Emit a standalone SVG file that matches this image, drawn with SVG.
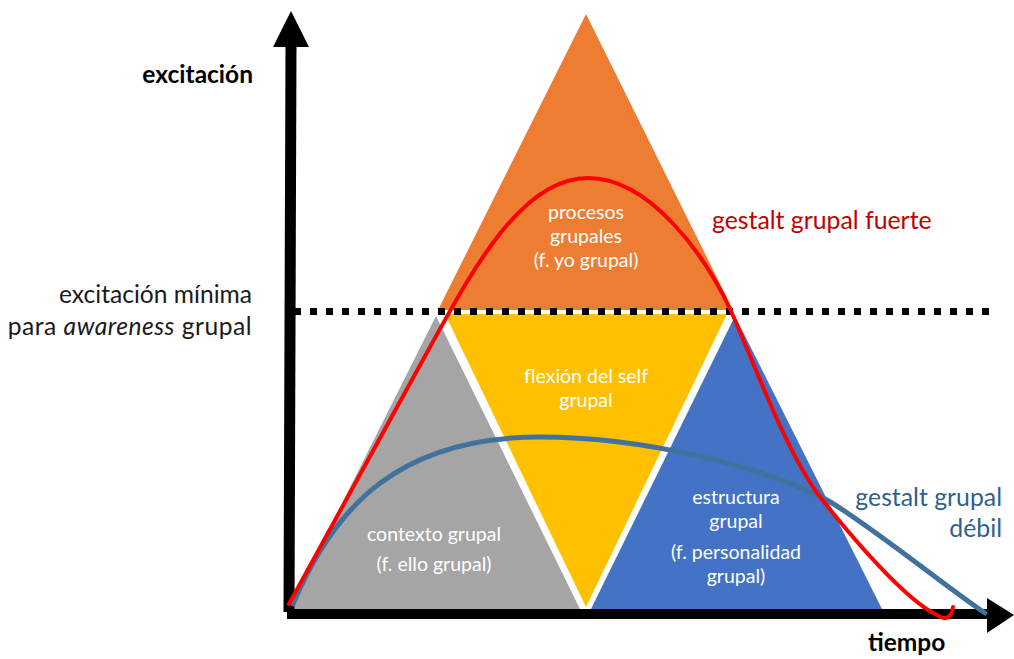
<svg xmlns="http://www.w3.org/2000/svg" width="1014" height="659" viewBox="0 0 1014 659">
  <style>
    .lbl { font-family: Lato, "Liberation Sans", sans-serif; font-size: 24.8px; }
    .inner { font-family: Lato, "Liberation Sans", sans-serif; font-size: 19.5px; fill: #ffffff; text-anchor: middle; }
    .axis { font-family: Lato, "Liberation Sans", sans-serif; font-size: 24.5px; fill: #000000; font-weight: bold; }
    .side { font-family: Lato, "Liberation Sans", sans-serif; font-size: 24.6px; fill: #1a1a1a; text-anchor: end; }
    .curve { fill: none; stroke-linecap: round; stroke-linejoin: round; }
  </style>

  <!-- four regions of the group triangle -->
  <g id="procesos">
    <polygon points="586,14 438,310 733,310" fill="#ED7D31"/>
    <text class="inner" x="586" y="219">procesos</text>
    <text class="inner" x="586" y="243">grupales</text>
    <text class="inner" x="586" y="267">(f. yo grupal)</text>
  </g>
  <g id="contexto">
    <polygon points="436,316 289,609 580,609" fill="#A5A5A5"/>
    <text class="inner" x="434" y="541">contexto grupal</text>
    <text class="inner" x="434" y="571">(f. ello grupal)</text>
  </g>
  <g id="flexion">
    <polygon points="445,314 727,314 586,607" fill="#FFC000"/>
    <text class="inner" x="586" y="383">flexión del self</text>
    <text class="inner" x="586" y="407">grupal</text>
  </g>
  <g id="estructura">
    <polygon points="735,316 591,609 882,609" fill="#4472C4"/>
    <text class="inner" x="736" y="504">estructura</text>
    <text class="inner" x="736" y="528">grupal</text>
    <text class="inner" x="736" y="559">(f. personalidad</text>
    <text class="inner" x="736" y="583">grupal)</text>
  </g>

  <!-- threshold line -->
  <g id="umbral">
    <line x1="294" y1="311.5" x2="990" y2="311.5" stroke="#000" stroke-width="7" stroke-dasharray="7 9"/>
  </g>

  <!-- axes and curves -->
  <g id="connectors">
    <line x1="289" y1="612" x2="291" y2="46" stroke="#000" stroke-width="11"/>
    <polygon points="291,11 273,47 309,47" fill="#000"/>
    <line x1="287" y1="614" x2="988" y2="614" stroke="#000" stroke-width="10"/>
    <polygon points="1014,615 987,598 987,633" fill="#000"/>

    <path class="curve" stroke="#41719C" stroke-width="5"
          d="M293,604 C335,505 400,437 540,437 C640,437 760,465 827,500 C870,525 950,590 985,613"/>
    <path class="curve" stroke="#FF0000" stroke-width="4"
          d="M289,604 L430,347 C470,275 520,178 588,178 C650,178 705,255 731,311 C755,365 785,450 820,497 C850,535 905,600 937,615 C945,621 952,618 953,607"/>
  </g>

  <!-- axis and curve labels -->
  <g id="labels">
    <text class="axis" x="253" y="83" text-anchor="end">excitación</text>
    <text class="axis" x="868" y="651">tiempo</text>
    <text class="side" x="252" y="303">excitación mínima</text>
    <text class="side" x="252" y="335" letter-spacing="0.5">para <tspan font-style="italic">awareness</tspan> grupal</text>
    <text class="lbl" x="712" y="229" fill="#C00000">gestalt grupal fuerte</text>
    <text class="lbl" x="1002" y="506" fill="#2F5F8F" text-anchor="end">gestalt grupal</text>
    <text class="lbl" x="1002" y="537" fill="#2F5F8F" text-anchor="end">débil</text>
  </g>
</svg>
